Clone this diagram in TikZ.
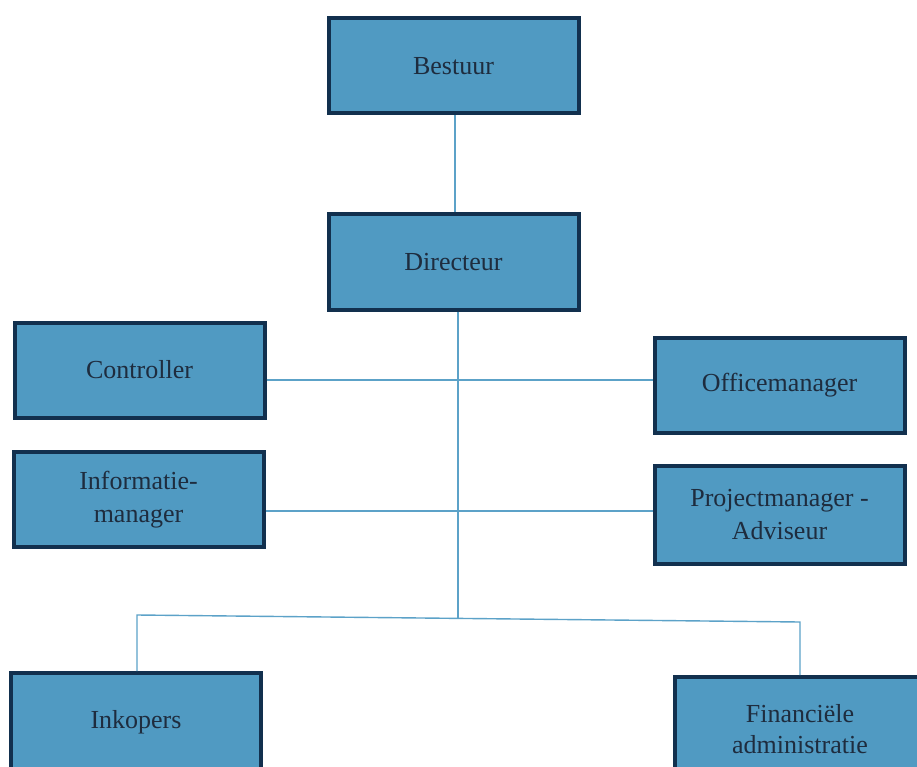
\documentclass[tikz,border=0pt]{standalone}
\usepackage{fontspec}
\setmainfont{Liberation Serif}
\definecolor{boxfill}{RGB}{80,154,194}
\definecolor{boxline}{RGB}{18,48,78}
\definecolor{txt}{RGB}{30,44,62}
\definecolor{conn}{RGB}{92,162,200}
\tikzset{
  box/.style={draw=boxline, fill=boxfill, line width=4pt, minimum width=250pt, minimum height=95pt,
    inner sep=0pt, align=center, text=txt, font=\fontsize{26}{33}\selectfont},
  link/.style={draw=conn, line width=1.4pt}
}
\begin{document}
\begin{tikzpicture}[x=1pt,y=-1pt]
\useasboundingbox (0,0) rectangle (917,767);
\clip (0,0) rectangle (917,767);
\fill[white] (0,0) rectangle (917,767);
\coordinate (jc) at (458,380);
\coordinate (ji) at (458,511);
\coordinate (jl) at (137,615);
\coordinate (jr) at (800,622);
\node[box] (bestuur) at (453.5,66) {Bestuur};
\node[box] (dir) at (453.5,262) {Directeur};
\node[box] (ctrl) at (139.5,370) {Controller};
\node[box] (office) at (779.5,385) {Officemanager};
\node[box] (info) at (138.5,499.5) {Informatie-\\manager};
\node[box, minimum height=98pt] (proj) at (779.5,515) {Projectmanager -\\Adviseur};
\node[box, minimum height=98pt] (ink) at (136,722) {Inkopers};
\node[box, minimum height=104pt, font=\fontsize{26}{31}\selectfont] (fin) at (800,729) {Financiële\\administratie};
\draw[link] (bestuur.south -| 455,0) -- (dir.north -| 455,0);
\draw[link] (dir.south -| 458,0) -- (458,618);
\draw[link] (ctrl.east |- jc) -- (office.west |- jc);
\draw[link] (info.east |- ji) -- (proj.west |- ji);
\draw[link] (jl |- ink.north) -- (jl) -- (jr) -- (jr |- fin.north);
\end{tikzpicture}
\end{document}
